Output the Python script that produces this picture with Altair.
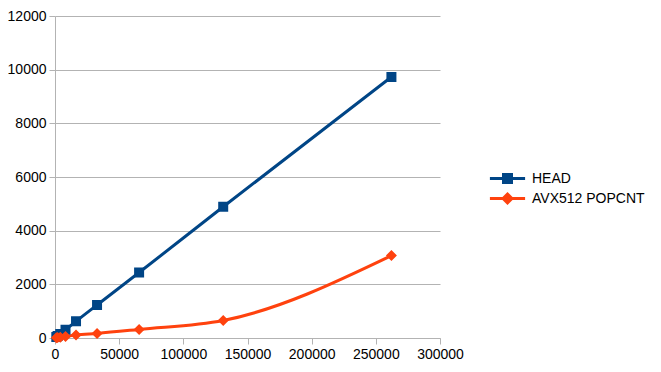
import altair as alt
import pandas as pd

x_vals = [1024, 2048, 4096, 8192, 16384, 32768, 65536, 131072, 262144]
head_vals = [38, 76, 152, 305, 620, 1230, 2440, 4890, 9730]
avx_vals = [10, 15, 30, 55, 110, 170, 320, 650, 3070]
series_names = ["HEAD", "AVX512 POPCNT"]
series_colors = ["#004586", "#ff420e"]
series_shapes = [
    "M-2.2,0H2.2M-0.5,-0.5H0.5V0.5H-0.5Z",
    "M-2.2,0H2.2M0,-0.55L0.55,0L0,0.55L-0.55,0Z",
]
x_ticks = [0, 50000, 100000, 150000, 200000, 250000, 300000]
y_ticks = [0, 2000, 4000, 6000, 8000, 10000, 12000]

rows = []
for name, vals in zip(series_names, [head_vals, avx_vals]):
    for xv, yv in zip(x_vals, vals):
        rows.append({"n": xv, "v": yv, "series": name})
df = pd.DataFrame(rows)

FONT = "Liberation Sans"
GRID = "#b3b3b3"

x_enc = alt.X(
    "n:Q",
    scale=alt.Scale(domain=[0, 300000], nice=False),
    axis=alt.Axis(values=x_ticks, grid=False, title=None, format="d",
                  labelFontSize=14, labelFont=FONT, labelColor="#000000",
                  domainColor=GRID, tickColor=GRID, tickSize=6, labelPadding=3,
                  labelOverlap=False, labelFlush=False),
)
y_enc = alt.Y(
    "v:Q",
    scale=alt.Scale(domain=[0, 12000], nice=False),
    axis=alt.Axis(values=y_ticks, grid=True, gridColor=GRID, title=None, format="d",
                  labelFontSize=14, labelFont=FONT, labelColor="#000000",
                  domainColor=GRID, tickColor=GRID, tickSize=6, labelPadding=3,
                  labelOverlap=False, labelFlush=False),
)
color = alt.Color("series:N", scale=alt.Scale(domain=series_names, range=series_colors), title=None)
shape = alt.Shape("series:N", scale=alt.Scale(domain=series_names, range=series_shapes), title=None)

base = alt.Chart(df).encode(x=x_enc, y=y_enc)
line = base.mark_line(interpolate="monotone", strokeWidth=3).encode(color=color)
pts = base.mark_point(filled=True, size=400, opacity=1, strokeOpacity=0).encode(color=color, shape=shape)

chart = (
    alt.layer(line, pts)
    .properties(width=385, height=322, autosize=alt.AutoSizeParams(type="none"),
                padding={"left": 47, "top": 8, "right": 213, "bottom": 26})
    .configure_view(stroke=None)
    .configure_legend(orient="none", legendX=443, legendY=153, padding=0,
                      symbolSize=256, symbolStrokeWidth=3, labelFontSize=14,
                      labelFont=FONT, labelColor="#000000", labelOffset=15, rowPadding=-2)
)
chart.save("out.html", embed_options={"renderer": "svg", "actions": False})
